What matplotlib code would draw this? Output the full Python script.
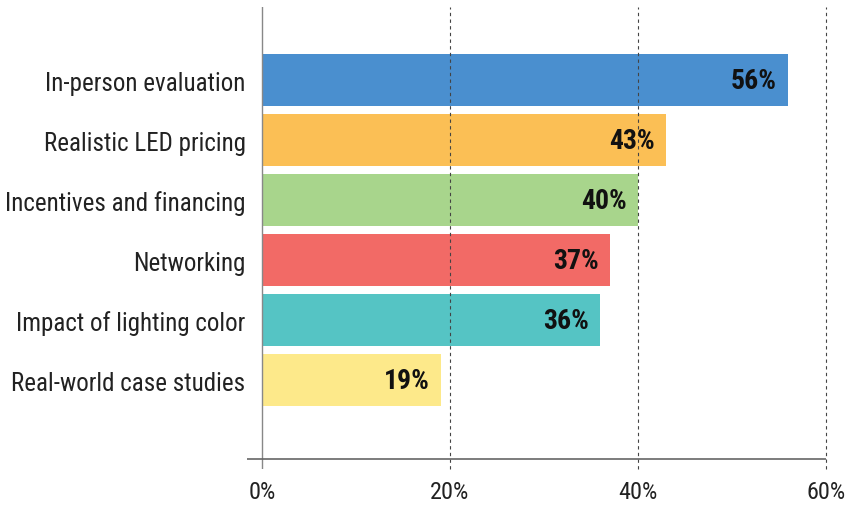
import matplotlib.pyplot as plt

categories = ["In-person evaluation", "Realistic LED pricing", "Incentives and financing",
              "Networking", "Impact of lighting color", "Real-world case studies"]
values = [56, 43, 40, 37, 36, 19]
colors = ["#4a8fcf", "#fbbf55", "#a8d58c", "#f26a66", "#55c4c4", "#fde98a"]
xticks = [0, 20, 40, 60]

plt.rcParams['font.family'] = ['Roboto Condensed', 'Open Sans Condensed', 'DejaVu Sans']
plt.rcParams['font.stretch'] = 'condensed'

fig = plt.figure(figsize=(8.48, 5.06), dpi=100)
ax = fig.add_axes([247 / 848, 36 / 506, (826 - 247) / 848, 462 / 506])

pos = list(range(len(categories)))
ax.barh(pos, values, height=0.88, color=colors, zorder=1)

for p, v in zip(pos, values):
    ax.text(v - 1.2, p, f"{v}%", ha="right", va="center", fontsize=20,
            fontweight="bold", color="#111111", zorder=3)

for t in xticks[1:]:
    ax.axvline(t, color="#444444", lw=0.8, ls=(0, (3, 3)), zorder=2, clip_on=False)
ax.axvline(0, color="#888888", lw=1.0, zorder=2)
ax.axhline(6.32, xmin=0, xmax=1, color="#666666", lw=1.2, zorder=2)

ax.set_xlim(-1.6, 60)
ax.set_ylim(6.483, -1.217)

for s in ax.spines.values():
    s.set_visible(False)

ax.set_yticks(pos)
ax.set_yticklabels(categories, fontsize=18, color="#222222")
ax.tick_params(axis="y", length=0, pad=1)

ax.set_xticks(xticks)
ax.set_xticklabels([f"{t}%" for t in xticks], fontsize=17.5, color="#222222")
ax.tick_params(axis="x", length=0, pad=8)

fig.savefig("out.png", dpi=100)
